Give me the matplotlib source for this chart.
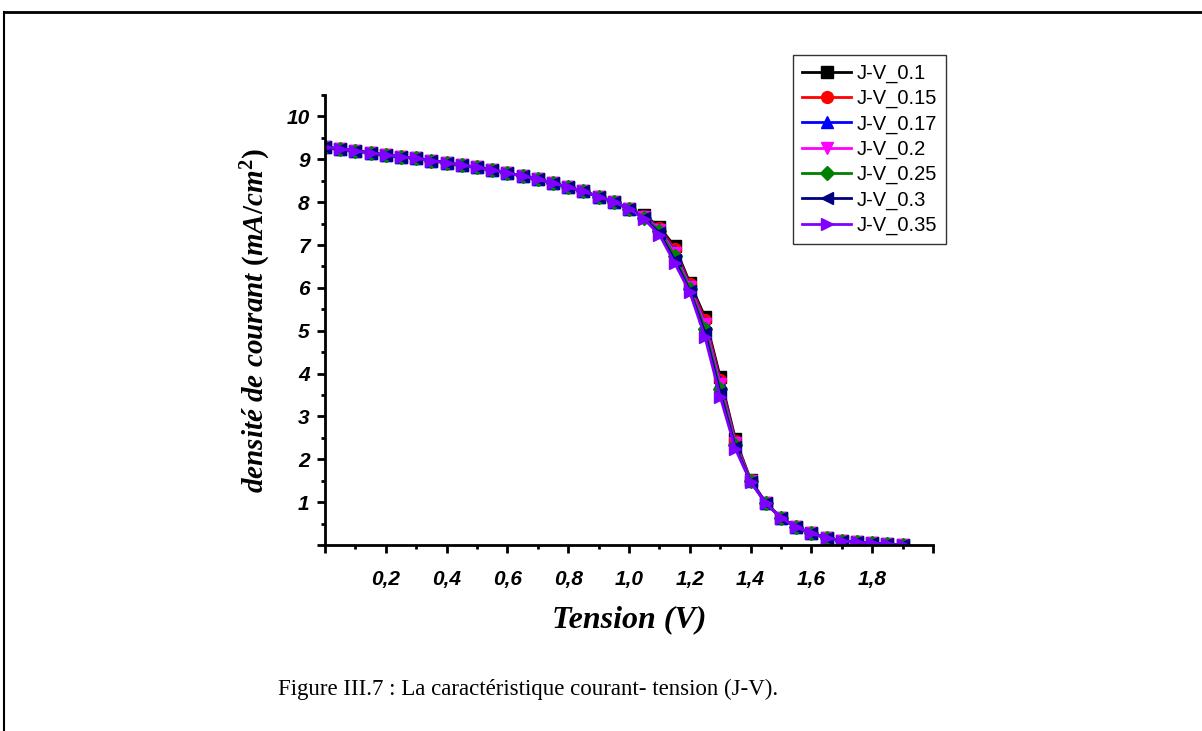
import numpy as np
import matplotlib
matplotlib.use("Agg")
import matplotlib.pyplot as plt
from matplotlib.ticker import MultipleLocator, FuncFormatter
from matplotlib.lines import Line2D

# tension (V), one point every 0.05 V
tension = [round(0.05 * i, 2) for i in range(39)]

# shared plateau (0 -> 1.0 V) and tail (1.45 -> 1.9 V)
plateau = [9.28, 9.24, 9.20, 9.15, 9.10, 9.06, 9.02, 8.97, 8.92, 8.86, 8.81,
           8.75, 8.68, 8.61, 8.53, 8.44, 8.35, 8.25, 8.13, 8.00, 7.85]
tail = [0.98, 0.63, 0.42, 0.27, 0.17, 0.10, 0.06, 0.04, 0.02, 0.01]

# knee region (1.05 -> 1.4 V) for each curve
knee_01 = [7.70, 7.42, 6.97, 6.12, 5.32, 3.92, 2.47, 1.52]
knee_015 = [7.68, 7.40, 6.90, 6.08, 5.25, 3.85, 2.43, 1.51]
knee_017 = [7.67, 7.38, 6.85, 6.05, 5.18, 3.80, 2.40, 1.50]
knee_02 = [7.66, 7.36, 6.82, 6.02, 5.15, 3.75, 2.38, 1.50]
knee_025 = [7.64, 7.33, 6.75, 5.98, 5.05, 3.65, 2.33, 1.49]
knee_03 = [7.62, 7.28, 6.65, 5.93, 4.95, 3.55, 2.28, 1.48]
knee_035 = [7.60, 7.24, 6.58, 5.90, 4.85, 3.46, 2.24, 1.47]

labels = ["J-V_0.1", "J-V_0.15", "J-V_0.17", "J-V_0.2", "J-V_0.25", "J-V_0.3", "J-V_0.35"]
knees = [knee_01, knee_015, knee_017, knee_02, knee_025, knee_03, knee_035]
colors = ["black", "red", "blue", "magenta", "green", "navy", "#8000FF"]
markers = ["s", "o", "^", "v", "D", "<", ">"]

plt.rcParams["mathtext.fontset"] = "custom"
plt.rcParams["mathtext.it"] = "Liberation Serif:italic:bold"
plt.rcParams["mathtext.rm"] = "Liberation Serif:bold"

fig = plt.figure(figsize=(12.02, 7.31), dpi=100)
ax = fig.add_axes([0.2704, 0.2544, 0.5058, 0.6156])

for lab, knee, col, mk in zip(labels, knees, colors, markers):
    j = plateau + knee + tail
    ms = 8.5 if mk != "D" else 7.5
    ax.plot(tension, j, color=col, marker=mk, markersize=ms, linewidth=2, label=lab)

ax.set_xlim(0, 2.0)
ax.set_ylim(0, 10.5)
ax.xaxis.set_major_locator(MultipleLocator(0.2))
ax.xaxis.set_minor_locator(MultipleLocator(0.1))
ax.yaxis.set_major_locator(MultipleLocator(1))
ax.yaxis.set_minor_locator(MultipleLocator(0.5))


def fmt_x(v, pos):
    if v < 0.1 or v > 1.9:
        return ""
    return ("%.1f" % v).replace(".", ",")


def fmt_y(v, pos):
    if v < 0.5:
        return ""
    return "%d" % v


ax.xaxis.set_major_formatter(FuncFormatter(fmt_x))
ax.yaxis.set_major_formatter(FuncFormatter(fmt_y))

for s in ["top", "right"]:
    ax.spines[s].set_visible(False)
for s in ["left", "bottom"]:
    ax.spines[s].set_linewidth(2)
ax.tick_params(which="major", direction="out", length=6, width=2)
ax.tick_params(axis="x", which="major", pad=12)
ax.tick_params(axis="y", which="major", pad=5)
ax.tick_params(which="minor", direction="out", length=3, width=2)
for t in ax.get_xticklabels() + ax.get_yticklabels():
    t.set_fontfamily("Liberation Sans")
    t.set_fontweight("bold")
    t.set_fontstyle("italic")
    t.set_fontsize(15)

ax.set_xlabel("Tension (V)", family="Liberation Serif", style="italic",
              weight="bold", fontsize=23, labelpad=12)
ax.set_ylabel("densité de courant $(mA/cm^2)$", family="Liberation Serif",
              style="italic", weight="bold", fontsize=21, labelpad=10)

leg = ax.legend(loc="upper left", bbox_to_anchor=(0.66, 0.925),
                bbox_transform=fig.transFigure, frameon=True, fancybox=False,
                prop={"family": "Liberation Sans", "size": 14.5},
                handlelength=2.4, labelspacing=0.3, borderpad=0.45,
                handletextpad=0.3, borderaxespad=0)
leg.get_frame().set_edgecolor("black")
leg.get_frame().set_linewidth(1)

fig.text(0.4395, 0.057, "Figure III.7 : La caractéristique courant- tension (J-V).",
         family="Liberation Serif", fontsize=16.5, ha="center", va="center")

# page frame lines
fig.add_artist(Line2D([0.0035, 1.0], [0.984, 0.984], color="black", linewidth=2,
                      transform=fig.transFigure))
fig.add_artist(Line2D([0.0035, 0.0035], [0.0, 0.984], color="black", linewidth=1.5,
                      transform=fig.transFigure))

fig.savefig("out.png", dpi=100)
